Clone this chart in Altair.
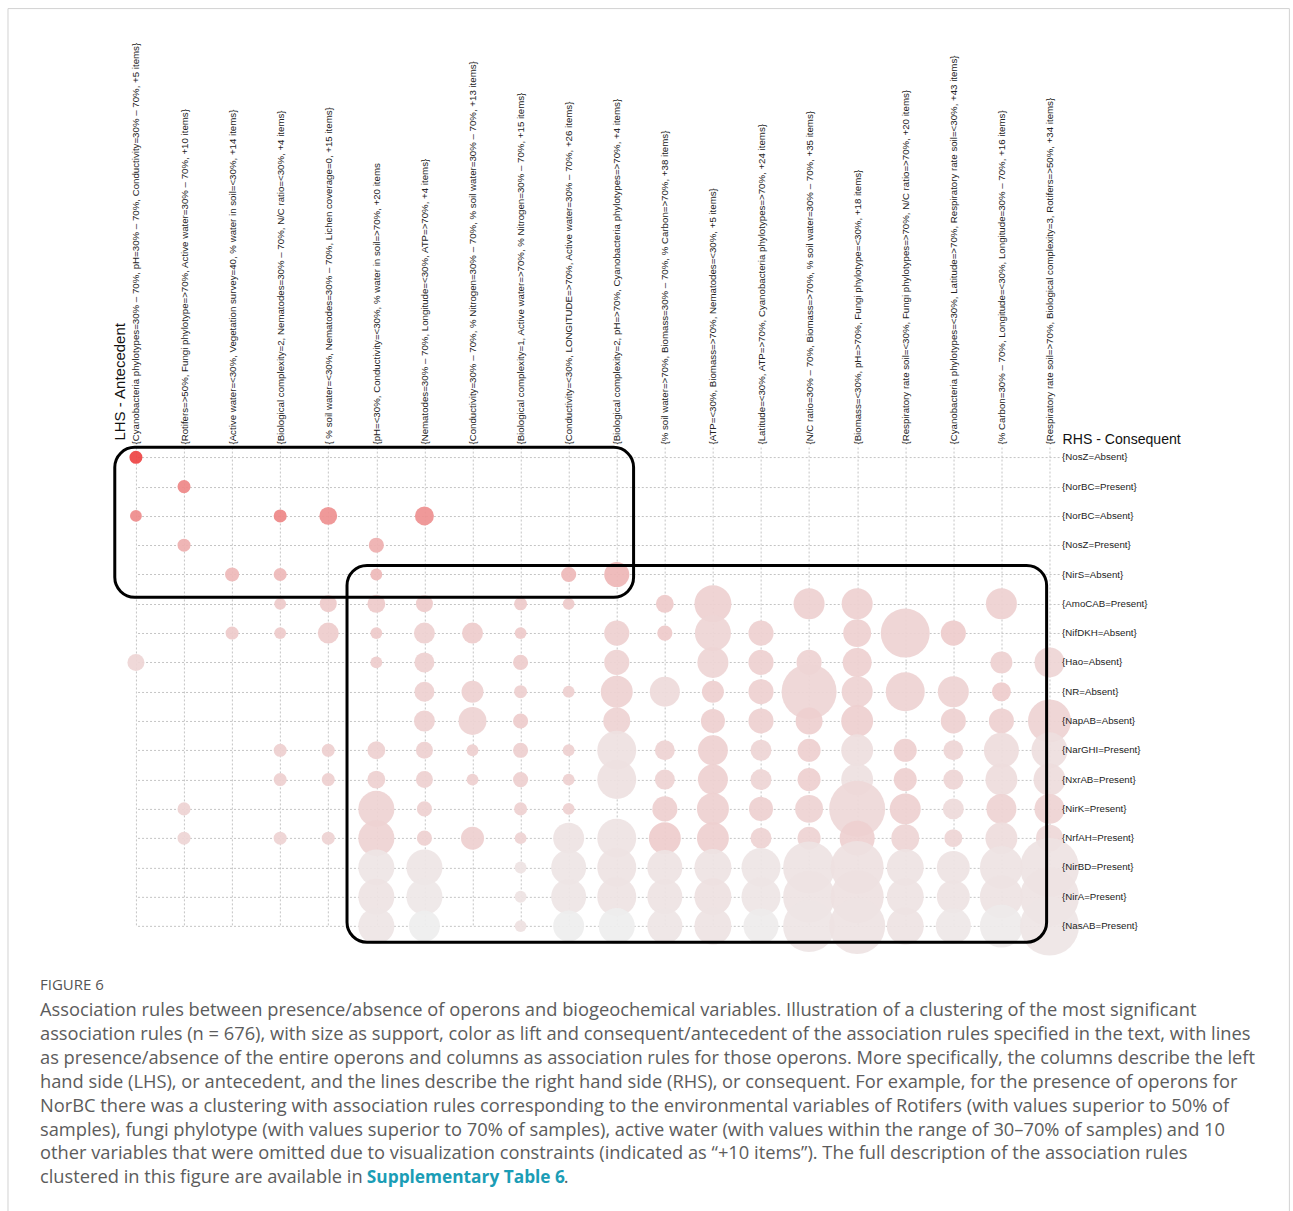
import json
import altair as alt
import pandas as pd

# ---------------------------------------------------------------------------
# Grouped matrix of association rules: columns = LHS clusters, rows = RHS
# ---------------------------------------------------------------------------
lhs_labels = [
    "{Cyanobacteria phylotypes=30% – 70%, pH=30% – 70%, Conductivity=30% – 70%, +5 items}",
    "{Rotifers=>50%, Fungi phylotype=>70%, Active water=30% – 70%, +10 items}",
    "{Active water=<30%, Vegetation survey=40, % water in soil=<30%, +14 items}",
    "{Biological complexity=2, Nematodes=30% – 70%, N/C ratio=<30%, +4 items}",
    "{ % soil water=<30%, Nematodes=30% – 70%, Lichen coverage=0, +15 items}",
    "{pH=<30%, Conductivity=<30%, % water in soil=>70%, +20 items",
    "{Nematodes=30% – 70%, Longitude=<30%, ATP=>70%, +4 items}",
    "{Conductivity=30% – 70%, % Nitrogen=30% – 70%, % soil water=30% – 70%, +13 items}",
    "{Biological complexity=1, Active water=>70%, % Nitrogen=30% – 70%, +15 items}",
    "{Conductivity=<30%, LONGITUDE=>70%, Active water=30% – 70%, +26 items}",
    "{Biological complexity=2, pH=>70%, Cyanobacteria phylotypes=>70%, +4 items}",
    "{% soil water=>70%, Biomass=30% – 70%, % Carbon=>70%, +38 items}",
    "{ATP=<30%, Biomass=>70%, Nematodes=<30%, +5 items}",
    "{Latitude=<30%, ATP=>70%, Cyanobacteria phylotypes=>70%, +24 items}",
    "{N/C ratio=30% – 70%, Biomass=>70%, % soil water=30% – 70%, +35 items}",
    "{Biomass=<30%, pH=>70%, Fungi phylotype=<30%, +18 items}",
    "{Respiratory rate soil=<30%, Fungi phylotypes=>70%, N/C ratio=>70%, +20 items}",
    "{Cyanobacteria phylotypes=<30%, Latitude=>70%, Respiratory rate soil=<30%, +43 items}",
    "{% Carbon=30% – 70%, Longitude=<30%, Longitude=30% – 70%, +16 items}",
    "{Respiratory rate soil=>70%, Biological complexity=3, Rotifers=>50%, +34 items}",
]

rhs_labels = [
    "{NosZ=Absent}", "{NorBC=Present}", "{NorBC=Absent}", "{NosZ=Present}",
    "{NirS=Absent}", "{AmoCAB=Present}", "{NifDKH=Absent}", "{Hao=Absent}",
    "{NR=Absent}", "{NapAB=Absent}", "{NarGHI=Present}", "{NxrAB=Present}",
    "{NirK=Present}", "{NrfAH=Present}", "{NirBD=Present}", "{NirA=Present}",
    "{NasAB=Present}",
]

# For every RHS row: (LHS column, support, lift) of each rule group
rules_by_rhs = [
    [(0, .017, 2.90)],
    [(1, .017, 2.15)],
    [(0, .014, 2.10), (3, .017, 2.15), (4, .032, 2.05), (6, .036, 2.05)],
    [(1, .017, 1.70), (5, .023, 1.70)],
    [(2, .020, 1.60), (3, .017, 1.60), (5, .014, 1.60), (9, .023, 1.60), (10, .063, 1.62)],
    [(3, .014, 1.40), (4, .029, 1.40), (5, .032, 1.40), (6, .029, 1.40), (8, .017, 1.40),
     (9, .014, 1.40), (11, .032, 1.40), (12, .137, 1.33), (14, .096, 1.33), (15, .096, 1.33),
     (18, .096, 1.33)],
    [(2, .017, 1.40), (3, .014, 1.40), (4, .044, 1.38), (5, .014, 1.40), (6, .044, 1.33),
     (7, .044, 1.38), (8, .014, 1.40), (10, .063, 1.33), (11, .023, 1.40), (12, .130, 1.28),
     (13, .063, 1.33), (15, .078, 1.33), (16, .240, 1.30), (17, .063, 1.38)],
    [(0, .029, 1.28), (5, .014, 1.38), (6, .040, 1.33), (8, .023, 1.38), (10, .063, 1.30),
     (12, .096, 1.28), (13, .063, 1.33), (14, .063, 1.30), (15, .084, 1.33), (18, .048, 1.33),
     (19, .090, 1.28)],
    [(6, .040, 1.33), (7, .048, 1.33), (8, .017, 1.35), (9, .014, 1.35), (10, .102, 1.32),
     (11, .090, 1.22), (12, .048, 1.35), (13, .063, 1.33), (14, .303, 1.28), (15, .096, 1.30),
     (16, .152, 1.30), (17, .096, 1.30), (18, .036, 1.38)],
    [(6, .044, 1.33), (7, .078, 1.30), (8, .023, 1.38), (10, .073, 1.30), (12, .058, 1.35),
     (13, .063, 1.33), (14, .073, 1.35), (15, .102, 1.35), (17, .063, 1.33), (18, .063, 1.33),
     (19, .185, 1.30)],
    [(3, .017, 1.35), (4, .017, 1.35), (5, .032, 1.33), (6, .029, 1.33), (7, .014, 1.35),
     (8, .023, 1.35), (9, .014, 1.33), (10, .152, 1.15), (11, .040, 1.30), (12, .090, 1.33),
     (13, .044, 1.28), (14, .053, 1.35), (15, .102, 1.18), (16, .053, 1.35), (17, .040, 1.28),
     (18, .123, 1.20), (19, .130, 1.18)],
    [(3, .017, 1.35), (4, .017, 1.35), (5, .032, 1.33), (6, .029, 1.33), (7, .014, 1.35),
     (8, .023, 1.35), (9, .014, 1.33), (10, .152, 1.15), (11, .040, 1.30), (12, .090, 1.33),
     (13, .044, 1.28), (14, .053, 1.35), (15, .102, 1.15), (16, .053, 1.35), (17, .040, 1.28),
     (18, .102, 1.20), (19, .102, 1.20)],
    [(1, .017, 1.30), (5, .130, 1.30), (6, .023, 1.33), (8, .017, 1.33), (9, .014, 1.33),
     (11, .063, 1.35), (12, .102, 1.33), (13, .058, 1.33), (14, .078, 1.30), (15, .314, 1.25),
     (16, .096, 1.33), (17, .044, 1.22), (18, .090, 1.30), (19, .090, 1.30)],
    [(1, .017, 1.28), (3, .017, 1.30), (4, .017, 1.30), (5, .130, 1.30), (6, .023, 1.33),
     (7, .053, 1.35), (8, .014, 1.30), (9, .096, 1.12), (10, .152, 1.12), (11, .102, 1.38),
     (12, .102, 1.35), (13, .044, 1.30), (14, .053, 1.30), (15, .123, 1.33), (16, .078, 1.28),
     (17, .032, 1.28), (18, .102, 1.20), (19, .073, 1.25)],
    [(5, .130, 1.10), (6, .130, 1.10), (8, .014, 1.12), (9, .123, 1.10), (10, .152, 1.12),
     (11, .123, 1.12), (12, .137, 1.12), (13, .152, 1.10), (14, .270, 1.12), (15, .281, 1.15),
     (16, .137, 1.12), (17, .109, 1.12), (18, .185, 1.12), (19, .348, 1.12)],
    [(5, .130, 1.12), (6, .130, 1.08), (8, .014, 1.12), (9, .123, 1.10), (10, .152, 1.12),
     (11, .123, 1.12), (12, .137, 1.15), (13, .152, 1.10), (14, .270, 1.12), (15, .281, 1.15),
     (16, .137, 1.12), (17, .109, 1.12), (18, .185, 1.12), (19, .348, 1.12)],
    [(5, .130, 1.10), (6, .096, 1.00), (8, .014, 1.15), (9, .096, 1.00), (10, .130, 1.00),
     (11, .123, 1.10), (12, .137, 1.12), (13, .123, 1.02), (14, .270, 1.10), (15, .314, 1.12),
     (16, .137, 1.12), (17, .123, 1.08), (18, .185, 1.05), (19, .348, 1.10)],
]

# Highlighted clusters as (left, right, top, bottom) edges in column/row units
cluster_edges = [(-0.44, 10.35, -0.34, 4.78), (4.39, 18.94, 3.69, 16.55)]

caption_lines = [
    "Association rules between presence/absence of operons and biogeochemical variables. Illustration of a clustering of the most significant",
    "association rules (n = 676), with size as support, color as lift and consequent/antecedent of the association rules specified in the text, with lines",
    "as presence/absence of the entire operons and columns as association rules for those operons. More specifically, the columns describe the left",
    "hand side (LHS), or antecedent, and the lines describe the right hand side (RHS), or consequent. For example, for the presence of operons for",
    "NorBC there was a clustering with association rules corresponding to the environmental variables of Rotifers (with values superior to 50% of",
    "samples), fungi phylotype (with values superior to 70% of samples), active water (with values within the range of 30–70% of samples) and 10",
    "other variables that were omitted due to visualization constraints (indicated as “+10 items”). The full description of the association rules",
    "clustered in this figure are available in",
]
caption_link = "Supplementary Table 6"

# ---------------------------------------------------------------------------
# Layout
# ---------------------------------------------------------------------------
PAGE_W, PAGE_H = 1293, 1211
PLOT_LEFT, PLOT_TOP = 136.0, 446.7
COL_STEP, ROW_STEP = 48.105, 29.31
X_MAX, Y_MIN, Y_MAX = 19.2, -0.35, 16.0
PLOT_W = X_MAX * COL_STEP
PLOT_H = (Y_MAX - Y_MIN) * ROW_STEP
MAX_SUPPORT = 0.36
MAX_DIAMETER = 60.0

AX_FONT = "Liberation Sans"
LABEL_SIZE = 9.7
CAP_FONT = "Open Sans"
CAP_SIZE = 18.3
CAP_COLOR = "#5c5c5c"


def px(x_abs):
    return x_abs - PLOT_LEFT


def py(y_abs):
    return y_abs - PLOT_TOP


records = []
for r, rules in enumerate(rules_by_rhs):
    for c, s, lift in rules:
        records.append({"col": c, "row": r, "support": s, "lift": lift,
                        "lhs": lhs_labels[c], "rhs": rhs_labels[r]})
bubbles = pd.DataFrame(records)

boxes = pd.DataFrame(cluster_edges, columns=["x0", "x1", "y0", "y1"])
rhs_table = pd.DataFrame({"row": list(range(len(rhs_labels))), "label": rhs_labels})

x_scale = alt.Scale(domain=[0, X_MAX], nice=False, zero=False)
y_scale = alt.Scale(domain=[Y_MIN, Y_MAX], reverse=True, nice=False, zero=False)

x_axis = alt.Axis(
    orient="top", values=list(range(len(lhs_labels))),
    labelExpr=json.dumps(lhs_labels, ensure_ascii=False) + "[datum.value]",
    labelAngle=270, labelAlign="left", labelBaseline="middle", labelPadding=3,
    labelLimit=1000, labelOverlap=False, labelFlush=False,
    title="LHS - Antecedent", titleAngle=270, titleAlign="left",
    titleBaseline="middle", titleX=-16, titleY=-7, titleFontSize=15,
    grid=True,
)
# right axis keeps the grid and title; row names are drawn above the bubbles
y_axis = alt.Axis(
    orient="right", values=list(range(len(rhs_labels))), labels=False,
    title="RHS - Consequent", titleAngle=0, titleAlign="left",
    titleBaseline="alphabetic", titleX=3, titleY=-4, titleFontSize=14.1,
    grid=True,
)

one = pd.DataFrame({"k": [0]})

# invisible page-sized rect keeps the whole figure anchored at the page origin
page = alt.Chart(one).mark_rect(opacity=0).encode(
    x=alt.value(px(0)), x2=alt.value(px(PAGE_W)),
    y=alt.value(py(0)), y2=alt.value(py(PAGE_H)),
)
frame = alt.Chart(one).mark_rect(fillOpacity=0, stroke="#d2d2d2", strokeWidth=1).encode(
    x=alt.value(px(8)), x2=alt.value(px(1290)),
    y=alt.value(py(8)), y2=alt.value(py(PAGE_H + 20)),
)

# Vega symbol size is the square of the circle's diameter
points = alt.Chart(bubbles).mark_circle(opacity=0.92).encode(
    x=alt.X("col:Q", scale=x_scale, axis=x_axis),
    y=alt.Y("row:Q", scale=y_scale, axis=y_axis),
    size=alt.Size("support:Q", legend=None,
                  scale=alt.Scale(domain=[0, MAX_SUPPORT], zero=True,
                                  range=[0, MAX_DIAMETER ** 2])),
    color=alt.Color("lift:Q", legend=None,
                    scale=alt.Scale(domain=[1.0, 3.0], range=["#eeeeee", "#ee3a3a"],
                                    interpolate="rgb", clamp=True)),
    tooltip=["lhs:N", "rhs:N", "support:Q", "lift:Q"],
)

rhs_text = alt.Chart(rhs_table).mark_text(
    align="left", baseline="middle", font=AX_FONT, fontSize=LABEL_SIZE,
    color="#222222", dx=3,
).encode(
    x=alt.value(PLOT_W),
    y=alt.Y("row:Q", scale=y_scale, axis=y_axis),
    text="label:N",
)

cluster_boxes = alt.Chart(boxes).mark_rect(
    fillOpacity=0, stroke="black", strokeWidth=3, cornerRadius=20
).encode(
    x=alt.X("x0:Q", scale=x_scale, axis=x_axis), x2="x1:Q",
    y=alt.Y("y0:Q", scale=y_scale, axis=y_axis), y2="y1:Q",
)

fig_label = alt.Chart(one).mark_text(
    text="FIGURE 6", align="left", baseline="middle", font=CAP_FONT,
    fontSize=15, color="#555555",
).encode(x=alt.value(px(40)), y=alt.value(py(985)))

caption_layers = []
for i, line in enumerate(caption_lines):
    caption_layers.append(
        alt.Chart(one).mark_text(
            text=line, align="left", baseline="middle", font=CAP_FONT,
            fontSize=CAP_SIZE, color=CAP_COLOR,
        ).encode(x=alt.value(px(40)), y=alt.value(py(1011 + i * 23.9)))
    )
link = alt.Chart(one).mark_text(
    text=caption_link, align="left", baseline="middle", font=CAP_FONT,
    fontSize=17.3, fontWeight="bold", color="#1b9db6",
).encode(x=alt.value(px(367)), y=alt.value(py(1011 + 7 * 23.9)))
stop = alt.Chart(one).mark_text(
    text=".", align="left", baseline="middle", font=CAP_FONT,
    fontSize=CAP_SIZE, color=CAP_COLOR,
).encode(x=alt.value(px(564)), y=alt.value(py(1011 + 7 * 23.9)))

chart = alt.layer(
    page, frame, points, rhs_text, cluster_boxes, fig_label, *caption_layers, link, stop
).properties(
    width=PLOT_W, height=PLOT_H, padding=0,
).configure_view(
    strokeWidth=0,
).configure_axis(
    gridColor="#c4c4c4", gridDash=[2, 2], gridWidth=1,
    domain=False, ticks=False,
    labelFont=AX_FONT, labelFontSize=LABEL_SIZE, labelColor="#222222",
    titleFont=AX_FONT, titleFontWeight="normal", titleColor="#111111",
)

chart.save("out.html", embed_options={"renderer": "svg", "actions": False})
